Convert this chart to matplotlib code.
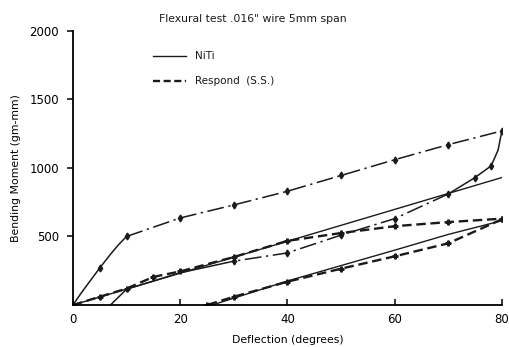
import matplotlib.pyplot as plt

# NiTi loading: steep solid start, then dash-dot with markers
niti_load_start_x = [0, 1.5, 3, 5, 7, 8.5, 10]
niti_load_start_y = [0, 85, 165, 270, 370, 440, 500]
niti_load_x = [10, 20, 30, 40, 50, 60, 70, 80]
niti_load_y = [500, 635, 730, 830, 945, 1060, 1170, 1270]

# NiTi unloading
niti_drop_x = [80, 79.3, 78, 75, 70]
niti_drop_y = [1270, 1130, 1015, 930, 810]
niti_unload_x = [70, 60, 50, 40, 30]
niti_unload_y = [810, 630, 510, 380, 320]
niti_return_x = [30, 20, 10, 7]
niti_return_y = [320, 235, 115, 0]

# NiTi straight run
niti_line_x = [0, 80]
niti_line_y = [0, 930]

# NiTi lower loop
niti_low_x = [26, 40, 60, 70, 80]
niti_low_y = [0, 175, 400, 515, 615]

# Respond (S.S.)
resp_load_x = [0, 5, 10, 15, 20, 30, 40, 50, 60, 70, 80]
resp_load_y = [0, 60, 120, 205, 245, 350, 468, 525, 575, 605, 630]
resp_unload_x = [80, 70, 60, 50, 40, 30, 25]
resp_unload_y = [625, 450, 355, 265, 170, 60, 0]

ink = "#1a1a1a"
fig = plt.figure(figsize=(5.10, 3.47), dpi=100)
ax = fig.add_axes([0.143, 0.121, 0.841, 0.79])

dashdot = (0, (11, 3, 1.5, 3))
ax.plot(niti_load_start_x, niti_load_start_y, color=ink, lw=1.1,
        marker="d", ms=3.5, markevery=[3])
ax.plot(niti_load_x, niti_load_y, color=ink, lw=1.1, ls=dashdot,
        marker="d", ms=3.5)
ax.plot(niti_drop_x, niti_drop_y, color=ink, lw=1.1, marker="d", ms=3.5,
        markevery=[2, 3])
ax.plot(niti_unload_x, niti_unload_y, color=ink, lw=1.1, ls=dashdot,
        marker="d", ms=3.5)
ax.plot(niti_return_x, niti_return_y, color=ink, lw=1.1)
ax.plot(niti_line_x, niti_line_y, color=ink, lw=1.0)
ax.plot(niti_low_x, niti_low_y, color=ink, lw=1.0)

ax.plot(resp_load_x, resp_load_y, color=ink, lw=1.7, ls=(0, (4, 2)),
        marker="P", ms=3.5)
ax.plot(resp_unload_x, resp_unload_y, color=ink, lw=1.7, ls=(0, (4, 2)),
        marker="P", ms=3.5)

ax.set_xlim(0, 80)
ax.set_ylim(0, 2000)
ax.set_xticks([0, 20, 40, 60, 80])
ax.set_yticks([500, 1000, 1500, 2000])
ax.spines[["top", "right"]].set_visible(False)
ax.spines[["left", "bottom"]].set_linewidth(1.3)
ax.tick_params(axis="x", direction="in", length=4, labelsize=8.5, pad=6, width=1.1)
ax.tick_params(axis="y", direction="out", length=4, labelsize=8.5, pad=6, width=1.1)
ax.set_xlabel("Deflection (degrees)", fontsize=7.8, labelpad=6)
ax.set_ylabel("Bending Moment (gm-mm)", fontsize=7.8, labelpad=6)

fig.text(0.495, 0.945, 'Flexural test .016" wire 5mm span', fontsize=7.8,
         ha="center", va="center", color=ink)

# legend drawn by hand to match the scan
fig.lines.append(plt.Line2D([0.30, 0.365], [0.838, 0.838], color=ink, lw=1.0,
                            transform=fig.transFigure))
fig.lines.append(plt.Line2D([0.30, 0.365], [0.768, 0.768], color=ink, lw=1.7,
                            ls=(0, (3, 1.5)), transform=fig.transFigure))
fig.text(0.383, 0.838, "NiTi", fontsize=7.5, va="center", color=ink)
fig.text(0.383, 0.768, "Respond  (S.S.)", fontsize=7.5, va="center", color=ink)

fig.savefig("out.png", dpi=100)
